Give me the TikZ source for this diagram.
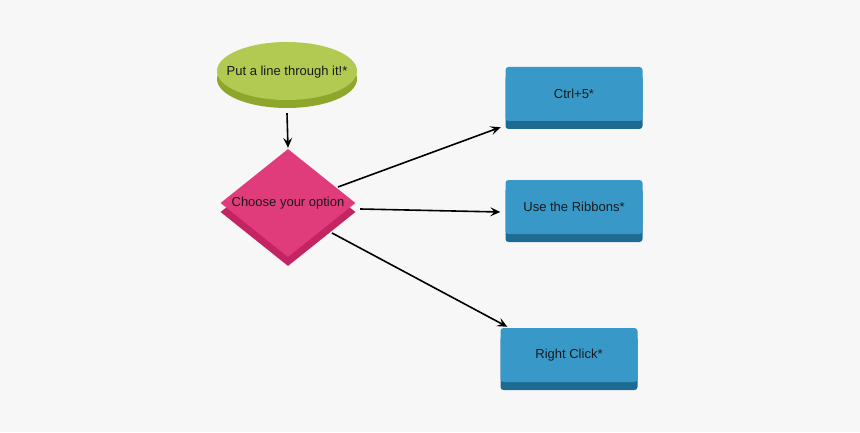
\documentclass[tikz,border=0pt]{standalone}
\usepackage{fontspec}
\setmainfont{Liberation Sans}
\usetikzlibrary{shapes.geometric,shadows,arrows.meta}
\definecolor{bgc}{HTML}{F7F7F7}
\definecolor{greenL}{HTML}{B2C952}
\definecolor{greenD}{HTML}{8DA62B}
\definecolor{pinkL}{HTML}{E03B7B}
\definecolor{pinkD}{HTML}{C42462}
\definecolor{blueL}{HTML}{3899C9}
\definecolor{blueD}{HTML}{1D6B92}
\definecolor{txt}{HTML}{1A1A1A}
\tikzset{
  base/.style={inner sep=0pt, font=\fontsize{13}{15}\selectfont, text=txt},
  startnode/.style={inner sep=0pt, ellipse, fill=greenL, minimum width=140pt, minimum height=58pt,
    general shadow={fill=greenD, shadow xshift=0pt, shadow yshift=-8pt}},
  decnode/.style={base, diamond, aspect=1.25, fill=pinkL, minimum width=135pt, minimum height=108pt,
    general shadow={fill=pinkD, shadow xshift=0pt, shadow yshift=-9pt}},
  boxnode/.style={base, rectangle, rounded corners=3pt, fill=blueL, minimum width=137pt, minimum height=54pt,
    general shadow={fill=blueD, shadow xshift=0pt, shadow yshift=-8pt}},
  arr/.style={-{Stealth[length=10pt,width=9pt,inset=4pt]}, line width=1.6pt, black}
}
\begin{document}
\begin{tikzpicture}[x=1pt,y=1pt]
\fill[bgc] (0,0) rectangle (860,432);
\useasboundingbox (0,0) rectangle (860,432);
\node[startnode, label={[base, yshift=-1pt]center:Put a line through it!*}] (ell) at (287,361) {};
\node[decnode] (dia) at (288,229) {Choose your option};
\node[boxnode] (b1) at (574,338) {Ctrl+5*};
\node[boxnode] (b2) at (574,225) {Use the Ribbons*};
\node[boxnode] (b3) at (569,77) {Right Click*};
\draw[arr] ([yshift=-13pt]ell.south) -- ([yshift=1pt]dia.north);
\draw[arr] ([shift={(50pt,16pt)}]dia.center) -- ([shift={(-4.7pt,-6pt)}]b1.south west);
\draw[arr] ([shift={(4.5pt,-6pt)}]dia.east) -- ([shift={(-5pt,-5pt)}]b2.west);
\draw[arr] ([shift={(44pt,-30pt)}]dia.center) -- ([shift={(7pt,1pt)}]b3.north west);
\end{tikzpicture}
\end{document}
